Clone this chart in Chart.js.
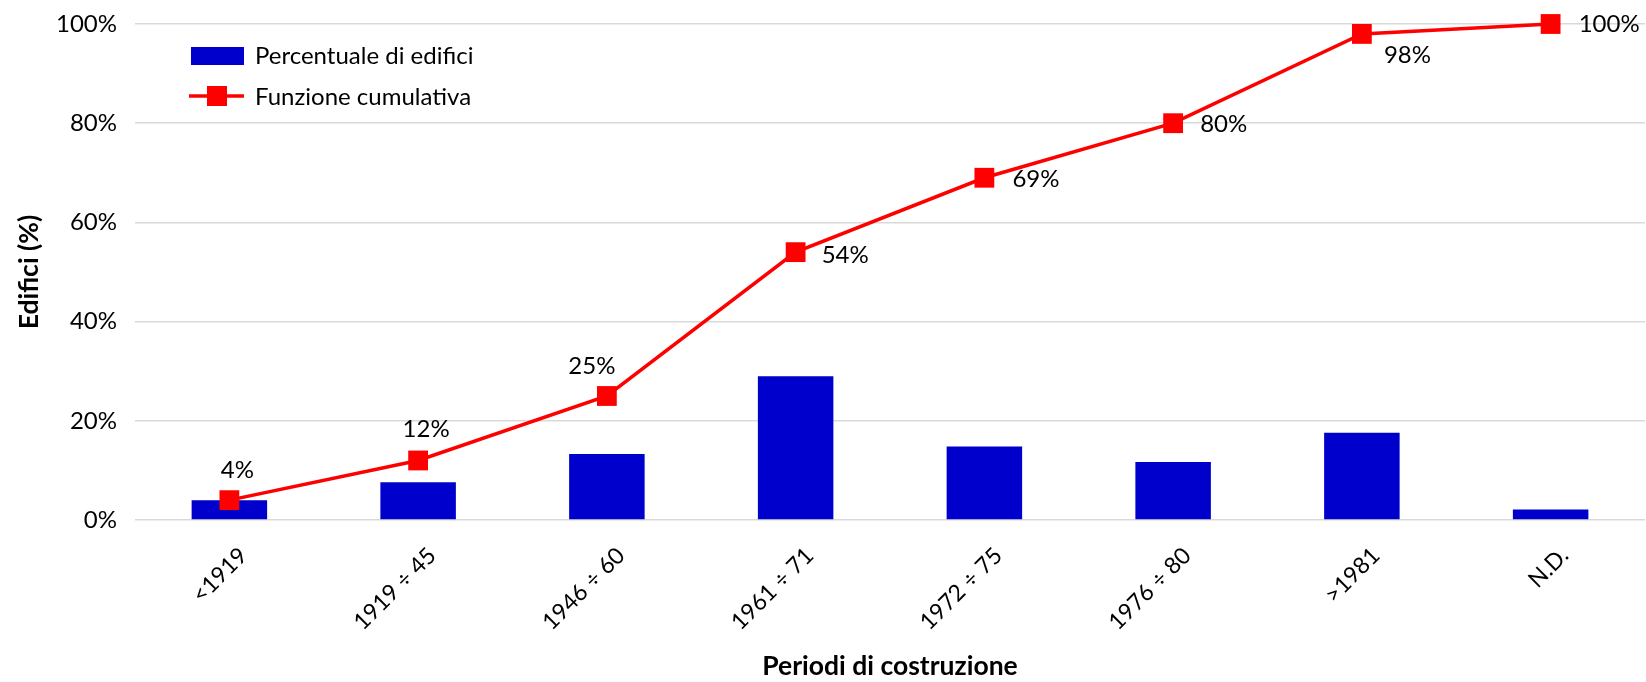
<!DOCTYPE html>
<html>
<head>
<meta charset="utf-8">
<script src="https://cdn.jsdelivr.net/npm/chart.js@4.4.1/dist/chart.umd.min.js"></script>
<style>
  html, body { margin: 0; padding: 0; background: #fff; overflow: hidden; }
  #wrap { width: 1646px; height: 682px; position: relative; }
</style>
</head>
<body>
<div id="wrap"><canvas id="grafico"></canvas></div>
<script>
// periodi di costruzione
var periodi = ['<1919', '1919 ÷ 45', '1946 ÷ 60', '1961 ÷ 71', '1972 ÷ 75', '1976 ÷ 80', '>1981', 'N.D.'];
// percentuale di edifici per periodo
var percentuali = [4.0, 7.6, 13.3, 29.0, 14.8, 11.7, 17.6, 2.1];
// funzione cumulativa (valori delle etichette)
var cumulativa = [4, 12, 25, 54, 69, 80, 98, 100];
var yTicks = [0, 20, 40, 60, 80, 100];

var FONT = 'Lato, "Open Sans", sans-serif';
var BLU = '#0000CC';
var ROSSO = '#FF0000';

// etichette della linea cumulativa, posizione rispetto al punto
var posEtichette = [
  { dx: 8, dy: -30, align: 'center' },
  { dx: 8, dy: -31, align: 'center' },
  { dx: -15, dy: -30, align: 'center' },
  { dx: 26, dy: 3, align: 'left' },
  { dx: 28, dy: 2, align: 'left' },
  { dx: 27, dy: 1, align: 'left' },
  { dx: 22, dy: 21, align: 'left' },
  { dx: 28, dy: 0, align: 'left' }
];

var etichettePlugin = {
  id: 'etichette',
  afterDatasetsDraw: function(chart) {
    var ctx = chart.ctx;
    var meta = chart.getDatasetMeta(0);
    ctx.save();
    ctx.font = '24px ' + FONT;
    ctx.fillStyle = '#000';
    ctx.textBaseline = 'middle';
    meta.data.forEach(function(pt, i) {
      var p = posEtichette[i];
      ctx.textAlign = p.align;
      ctx.fillText(cumulativa[i] + '%', pt.x + p.dx, pt.y + p.dy);
    });
    ctx.restore();
  }
};

// legenda dentro l'area del grafico, in alto a sinistra
var legendaPlugin = {
  id: 'legenda',
  afterDraw: function(chart) {
    var ctx = chart.ctx;
    ctx.save();
    // barre
    ctx.fillStyle = BLU;
    ctx.fillRect(191, 47, 53, 18);
    // linea con marcatore
    ctx.strokeStyle = ROSSO;
    ctx.lineWidth = 3.5;
    ctx.beginPath();
    ctx.moveTo(189, 96);
    ctx.lineTo(244, 96);
    ctx.stroke();
    ctx.fillStyle = ROSSO;
    ctx.fillRect(207, 86, 20, 20);
    ctx.fillStyle = '#000';
    ctx.font = '24px ' + FONT;
    ctx.textAlign = 'left';
    ctx.textBaseline = 'middle';
    ctx.fillText('Percentuale di edifici', 255, 56);
    ctx.fillText('Funzione cumulativa', 255, 97);
    ctx.restore();
  }
};

var ctx = document.getElementById('grafico').getContext('2d');
new Chart(ctx, {
  type: 'bar',
  data: {
    labels: periodi,
    datasets: [{
      type: 'line',
      label: 'Funzione cumulativa',
      data: cumulativa,
      borderColor: ROSSO,
      backgroundColor: ROSSO,
      borderWidth: 3.5,
      pointStyle: 'rect',
      pointRadius: 14,
      pointBorderWidth: 0,
      tension: 0,
      clip: false
    }, {
      label: 'Percentuale di edifici',
      data: percentuali,
      backgroundColor: BLU,
      barPercentage: 0.4,
      categoryPercentage: 1
    }]
  },
  options: {
    responsive: true,
    maintainAspectRatio: false,
    animation: false,
    devicePixelRatio: 1,
    layout: { autoPadding: false, padding: { top: 24, right: 1, left: 0, bottom: 0 } },
    plugins: {
      legend: { display: false },
      tooltip: { enabled: false }
    },
    scales: {
      x: {
        grid: { display: false },
        border: { display: false },
        ticks: {
          color: '#000',
          font: { family: FONT, size: 23 },
          minRotation: 45,
          maxRotation: 45,
          autoSkip: false,
          labelOffset: 14,
          padding: 14
        },
        title: {
          display: true,
          text: 'Periodi di costruzione',
          color: '#000',
          font: { family: FONT, size: 26.5, weight: 'bold' },
          padding: { top: 0, bottom: 0 }
        },
        afterFit: function(scale) {
          scale.height = 162;
          scale.paddingLeft = 0;
          scale.paddingRight = 0;
        }
      },
      y: {
        min: 0,
        max: 100,
        afterBuildTicks: function(scale) {
          scale.ticks = yTicks.map(function(v) { return { value: v }; });
        },
        grid: { color: '#D9D9D9', lineWidth: 1.5, drawTicks: false },
        border: { display: false },
        ticks: {
          color: '#000',
          font: { family: FONT, size: 24 },
          padding: 18,
          callback: function(v) { return v + '%'; }
        },
        title: {
          display: true,
          text: 'Edifici (%)',
          color: '#000',
          font: { family: FONT, size: 26.5, weight: 'bold' },
          padding: { top: 14, bottom: 0 }
        },
        afterFit: function(scale) {
          scale.width = 135;
          scale.paddingTop = 0;
          scale.paddingBottom = 0;
        }
      }
    }
  },
  plugins: [etichettePlugin, legendaPlugin]
});
</script>
</body>
</html>
